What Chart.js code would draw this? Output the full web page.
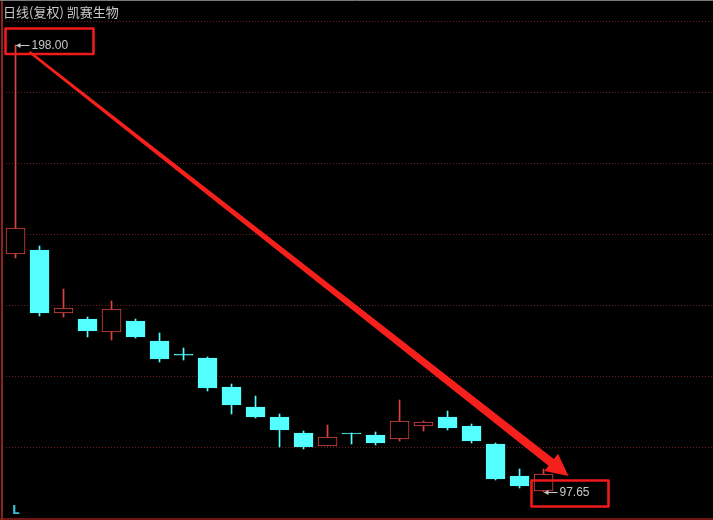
<!DOCTYPE html>
<html><head><meta charset="utf-8">
<script src="https://cdn.jsdelivr.net/npm/chart.js@4.4.1/dist/chart.umd.min.js"></script>
<style>html,body{margin:0;padding:0;background:#000;overflow:hidden}canvas{display:block}</style>
</head><body>
<canvas id="c" width="713" height="520"></canvas>
<script>
// ---- data ----
const title = '日线(复权) 凯赛生物';
const days = ['D1','D2','D3','D4','D5','D6','D7','D8','D9','D10','D11','D12','D13','D14','D15','D16','D17','D18','D19','D20','D21','D22','D23'];
const openP  = [151.08,151.98,137.83,136.49,133.57,136.04,131.55,128.40,127.73,121.22,116.73,114.49,110.89,107.98,110.89,110.44,109.55,112.47,114.49,112.47,108.42,101.24, 97.87];
const closeP = [156.92,137.83,138.96,133.79,138.73,132.45,127.51,128.38,121.00,117.18,114.49,111.57,107.75,110.00,110.67,108.65,113.59,113.36,112.02,109.10,100.57, 99.00,101.69];
const highP  = [198.00,152.88,143.22,136.94,140.53,136.49,133.34,129.98,127.96,121.89,119.20,115.16,111.34,112.69,110.89,111.12,118.30,113.59,115.83,112.91,108.65,102.81,102.81];
const lowP   = [150.18,137.16,136.94,132.45,131.77,132.22,126.83,127.28,120.32,115.16,114.26,107.75,107.30,107.98,108.42,108.20,109.10,111.34,111.57,108.65,100.34, 98.55, 97.65];
const highMark = {index: 0, value: 198.00, text: '198.00'};
const lowMark  = {index: 22, value: 97.65, text: '97.65'};
const yMin = 91.81, yMax = 203.39, gridCount = 7;
const xMin = -0.48, xMax = 29.06;

// ---- styles ----
const UP = '#dc4440', DOWN = '#54ffff', MARK = '#f01a1a', TXT = '#c8c8c8', GRID = '#6e1c1c';

const isUp = days.map((d,i) => closeP[i] >= openP[i]);
const bodies = days.map((d,i) => ({x: i, y: [openP[i], closeP[i]]}));
const wicks  = days.map((d,i) => ({x: i, y: [lowP[i], highP[i]]}));

const deco = {
  id: 'deco',
  beforeDraw(chart) {
    const ctx = chart.ctx;
    ctx.save(); ctx.fillStyle = '#000'; ctx.fillRect(0,0,chart.width,chart.height); ctx.restore();
  },
  beforeDatasetsDraw(chart) {
    const ctx = chart.ctx, ys = chart.scales.y, a = chart.chartArea;
    ctx.save();
    ctx.strokeStyle = GRID; ctx.lineWidth = 1; ctx.setLineDash([1,2]);
    const step = (yMax - yMin) / gridCount;
    for (let k = 0; k < gridCount; k++) {
      const py = Math.round(ys.getPixelForValue(yMax - k*step)) + 0.5;
      ctx.beginPath(); ctx.moveTo(a.left + 2, py); ctx.lineTo(a.right, py); ctx.stroke();
    }
    ctx.setLineDash([]);
    // frame
    ctx.strokeStyle = '#6e1616'; ctx.lineWidth = 2;
    ctx.beginPath(); ctx.moveTo(0, a.bottom + 1); ctx.lineTo(chart.width, a.bottom + 1); ctx.stroke();
    ctx.strokeStyle = '#8a2222'; ctx.lineWidth = 2;
    ctx.beginPath(); ctx.moveTo(2, 0); ctx.lineTo(2, chart.height); ctx.stroke();
    ctx.strokeStyle = '#7a7a7a'; ctx.lineWidth = 1;
    ctx.beginPath(); ctx.moveTo(0, 0.5); ctx.lineTo(chart.width, 0.5); ctx.stroke();
    ctx.restore();
  },
  afterDatasetsDraw(chart) {
    const ctx = chart.ctx, xs = chart.scales.x, ys = chart.scales.y;
    ctx.save();
    // title
    ctx.fillStyle = TXT; ctx.font = '13px "Noto Sans CJK SC"'; ctx.textBaseline = 'middle';
    ctx.fillText(title, 3, 12);
    // L
    ctx.fillStyle = '#3ab8d0'; ctx.font = 'bold 12px "DejaVu Sans"';
    ctx.fillText('L', 12, 511);

    function label(m) {
      const px = Math.round(xs.getPixelForValue(m.index)) + 0.5;
      const py = Math.round(ys.getPixelForValue(m.value));
      ctx.strokeStyle = TXT; ctx.fillStyle = TXT; ctx.lineWidth = 1;
      ctx.beginPath(); ctx.moveTo(px, py + 0.5); ctx.lineTo(px + 13, py + 0.5); ctx.stroke();
      ctx.beginPath(); ctx.moveTo(px - 0.5, py + 0.5); ctx.lineTo(px + 4, py - 2); ctx.lineTo(px + 4, py + 3); ctx.closePath(); ctx.fill();
      ctx.font = '12px "Liberation Sans", Arial'; ctx.textBaseline = 'middle';
      ctx.fillText(m.text, px + 15, py + 1);
      return {px, py};
    }
    const h = label(highMark), l = label(lowMark);

    // boxes
    ctx.strokeStyle = MARK; ctx.lineWidth = 2.6; ctx.lineJoin = 'round';
    ctx.strokeRect(h.px - 11, h.py - 16.5, 88, 25.5);
    ctx.strokeRect(l.px - 13, l.py - 11.5, 77, 26);

    // big arrow
    const S = {x: h.px + 13, y: h.py + 7}, E = {x: l.px + 24, y: l.py - 16};
    const dx = E.x - S.x, dy = E.y - S.y, L = Math.hypot(dx, dy);
    const u = {x: dx/L, y: dy/L}, n = {x: -u.y, y: u.x};
    const hl = 22, hw = 11, w0 = 1.3, w1 = 4.3;
    const B = {x: E.x - u.x*hl, y: E.y - u.y*hl};
    ctx.fillStyle = '#f5201c';
    ctx.beginPath();
    ctx.moveTo(S.x + n.x*w0, S.y + n.y*w0);
    ctx.lineTo(B.x + n.x*w1, B.y + n.y*w1);
    ctx.lineTo(B.x + n.x*hw, B.y + n.y*hw);
    ctx.lineTo(E.x, E.y);
    ctx.lineTo(B.x - n.x*hw, B.y - n.y*hw);
    ctx.lineTo(B.x - n.x*w1, B.y - n.y*w1);
    ctx.lineTo(S.x - n.x*w0, S.y - n.y*w0);
    ctx.closePath(); ctx.fill();
    ctx.restore();
  }
};

new Chart(document.getElementById('c'), {
  type: 'bar',
  data: {
    labels: days,
    datasets: [
      {
        label: 'body', data: bodies, order: 0, grouped: false,
        backgroundColor: isUp.map(u => u ? '#000' : DOWN),
        borderColor: isUp.map(u => u ? UP : DOWN),
        borderWidth: 1, borderSkipped: false, barThickness: 19, minBarLength: 1
      },
      {
        label: 'wick', data: wicks, order: 1, grouped: false,
        backgroundColor: isUp.map(u => u ? UP : DOWN),
        borderWidth: 0, barThickness: 1
      }
    ]
  },
  options: {
    responsive: false, animation: false, devicePixelRatio: 1,
    layout: {padding: {left: 4, top: 21, right: 0, bottom: 2}},
    plugins: {legend: {display: false}, tooltip: {enabled: false}},
    scales: {
      x: {type: 'linear', display: false, offset: false, min: xMin, max: xMax},
      y: {display: false, min: yMin, max: yMax}
    }
  },
  plugins: [deco]
});
</script>
</body></html>
